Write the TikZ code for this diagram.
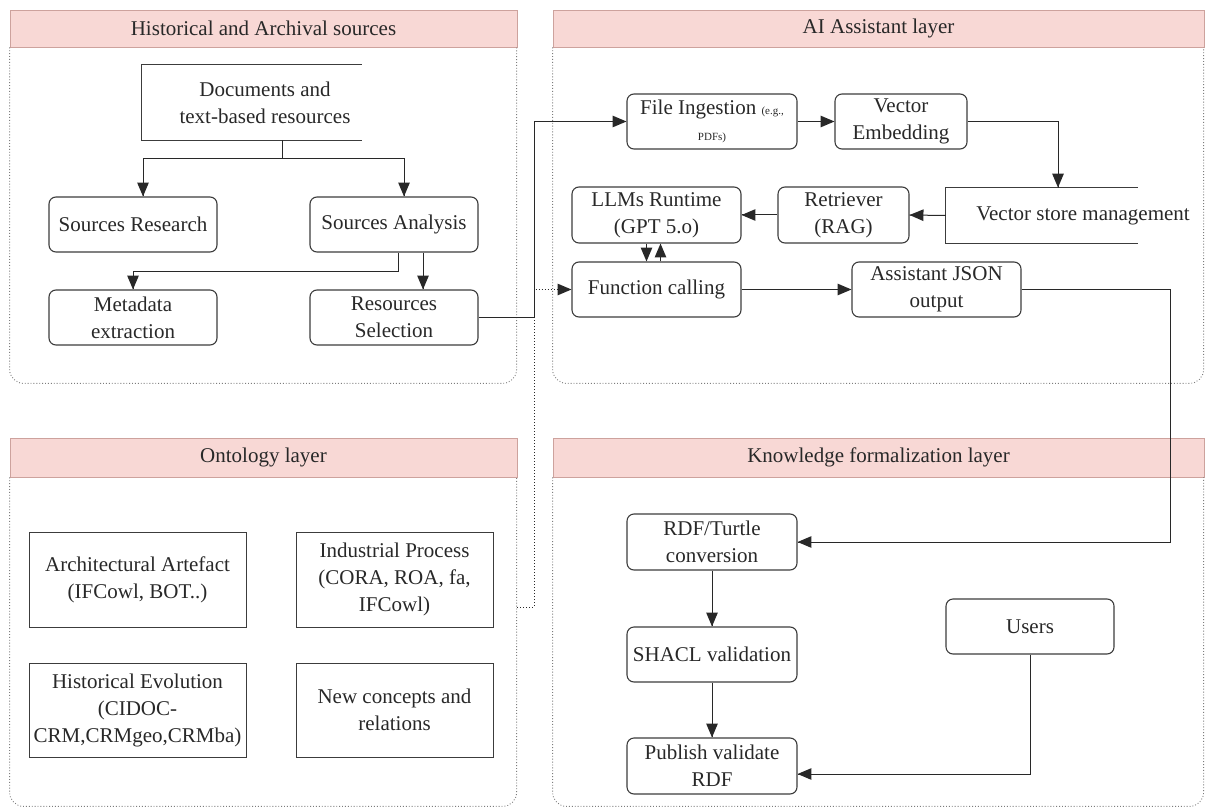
\documentclass[tikz,border=0pt]{standalone}
\usepackage{fontspec}
\setmainfont{Liberation Serif}
\usepackage{tikz}
\usetikzlibrary{arrows}
\usetikzlibrary{decorations.markings}
\usetikzlibrary{positioning}
\definecolor{headfill}{RGB}{248,216,213}
\definecolor{headline}{RGB}{205,162,157}
\definecolor{boxline}{RGB}{60,60,60}
\definecolor{panelline}{RGB}{125,125,125}
\definecolor{inkline}{RGB}{40,40,40}
\tikzset{->/.style = {decoration={markings,
                                  mark=at position 1 with {\arrow[scale=1.6]{triangle 45}}},
                      postaction={decorate}}}
\tikzset{link/.style = {draw=inkline, line width=1pt}}
\tikzset{layer/.style = {draw=headline, fill=headfill, line width=0.8pt, minimum height=37pt, inner sep=0}}
\tikzset{panel/.style = {draw=panelline, dotted, line width=0.9pt, rounded corners=14pt}}
\tikzset{proc/.style = {draw=boxline, rounded corners=7pt, line width=1.1pt, align=center,
                        minimum width=169pt, minimum height=55pt, inner sep=2pt}}
\tikzset{onto/.style = {draw=boxline, line width=1pt, align=center,
                        minimum width=217pt, minimum height=95pt, inner sep=2pt}}
\tikzset{openbox/.style = {align=center, inner sep=0}}

\begin{document}
\begin{tikzpicture}[x=1pt, y=-1pt, font=\fontsize{21}{27}\selectfont, text=inkline]
      \useasboundingbox (0,0) rectangle (1206,810);
      % layer headers and panels
      \node [layer, minimum width=507pt] (histhead) at (263.5,28.5) {Historical and Archival sources};
      \node [layer, minimum width=651pt] (aihead) at (878.5,28.5) {AI Assistant layer};
      \node [layer, minimum width=507pt, minimum height=39pt] (ontohead) at (263.5,457.5) {Ontology layer};
      \node [layer, minimum width=651pt, minimum height=39pt] (knowhead) at (878.5,457.5) {Knowledge formalization layer};
      \draw [panel] (histhead.south west) -- ++(0,336) -- ++(507,0) -- ++(0,-336);
      \draw [panel] (aihead.south west) -- ++(0,336) -- ++(651,0) -- ++(0,-336);
      \draw [panel] (ontohead.south west) -- ++(0,329) -- ++(507,0) -- ++(0,-329);
      \draw [panel] (knowhead.south west) -- ++(0,329) -- ++(651,0) -- ++(0,-329);

      % historical and archival sources
      \node [openbox, minimum width=246pt, minimum height=75pt] (docs) at (265,102.5) {Documents and\\text-based resources};
      \draw [boxline, line width=0.9pt] (docs.north west) ++(220,0) -- (docs.north west) -- (docs.south west) -- ++(220,0);
      \node [proc, minimum width=168pt] (srcres) at (133,224.5) {Sources Research};
      \node [proc, minimum width=168pt] (srcana) at (394,224.5) {Sources Analysis};
      \node [proc, minimum width=168pt] (meta) at (133,317.5) {Metadata\\extraction};
      \node [proc, minimum width=168pt] (ressel) at (394,317.5) {Resources\\Selection};
      \coordinate (split) at (282,159);
      \draw [link] ([xshift=17pt]docs.south) -- (split);
      \draw [link, ->] (split) -| ([xshift=10pt]srcres.north);
      \draw [link, ->] (split) -| ([xshift=10pt]srcana.north);
      \draw [link, ->] ([xshift=4pt]srcana.south) -- ++(0,19) -| (meta.north);
      \draw [link, ->] ([xshift=29pt]srcana.south) -- ([xshift=29pt]ressel.north);

      % AI assistant layer
      \node [proc, minimum width=170pt] (fileing) at (712,121.5) {File Ingestion {\fontsize{11}{12}\selectfont (e.g.,}\\[-1pt]{\fontsize{11}{12}\selectfont PDFs)}};
      \node [proc, minimum width=132pt] (vecemb) at (901,121.5) {Vector\\Embedding};
      \node [openbox, minimum width=274pt, minimum height=55.5pt] (vecstore) at (1083,215.5) {Vector store management};
      \draw [boxline, line width=0.9pt] (vecstore.north west) ++(192,0) -- (vecstore.north west) -- (vecstore.south west) -- ++(192,0);
      \node [proc, minimum width=131pt, minimum height=56pt] (retr) at (843.5,215) {Retriever\\(RAG)};
      \node [proc, minimum height=56pt] (llm) at (656.5,215) {LLMs Runtime\\(GPT 5.o)};
      \node [proc] (funcall) at (656.5,289.5) {Function calling};
      \node [proc] (asjson) at (936.5,289.5) {Assistant JSON\\output};
      \draw [link, ->] (ressel.east) -- ++(56,0) |- (fileing.west);
      \draw [link, ->] (fileing.east) -- (vecemb.west);
      \draw [link, ->] (vecemb.east) -| ([xshift=-25pt]vecstore.north);
      \draw [link, ->] (vecstore.west) -- (retr.east);
      \draw [link, ->] (retr.west) -- (llm.east);
      \draw [link, ->] ([xshift=-10pt]llm.south) -- ([xshift=-10pt]funcall.north);
      \draw [link, ->] ([xshift=4pt]funcall.north) -- ([xshift=4pt]llm.south);
      \draw [link, ->] (funcall.east) -- (asjson.west);

      % ontology layer
      \node [onto] (arch) at (137.5,579.5) {Architectural Artefact\\(IFCowl, BOT..)};
      \node [onto, minimum width=197pt] (indproc) at (394.5,579.5) {Industrial Process\\(CORA, ROA, fa,\\IFCowl)};
      \node [onto, minimum height=94pt] (histevo) at (137.5,710) {Historical Evolution\\(CIDOC-\\CRM,CRMgeo,CRMba)};
      \node [onto, minimum width=197pt, minimum height=94pt] (newcon) at (394.5,710) {New concepts and\\relations};
      \coordinate (ontoexit) at (517,607);
      \draw [link, dotted, ->] (ontoexit) -- ++(17,0) |- (funcall.west);

      % knowledge formalization layer
      \node [proc, minimum width=170pt, minimum height=56pt] (rdf) at (712,542) {RDF/Turtle\\conversion};
      \node [proc, minimum width=170pt] (shacl) at (712,654.5) {SHACL validation};
      \node [proc, minimum width=170pt, minimum height=56pt] (publish) at (712,766) {Publish validate\\RDF};
      \node [proc, minimum width=168pt] (users) at (1030,626.5) {Users};
      \draw [link, ->] (asjson.east) -- ++(149,0) |- (rdf.east);
      \draw [link, ->] (rdf.south) -- (shacl.north);
      \draw [link, ->] (shacl.south) -- (publish.north);
      \draw [link, ->] (users.south) |- ([yshift=-8pt]publish.east);
\end{tikzpicture}
\end{document}
